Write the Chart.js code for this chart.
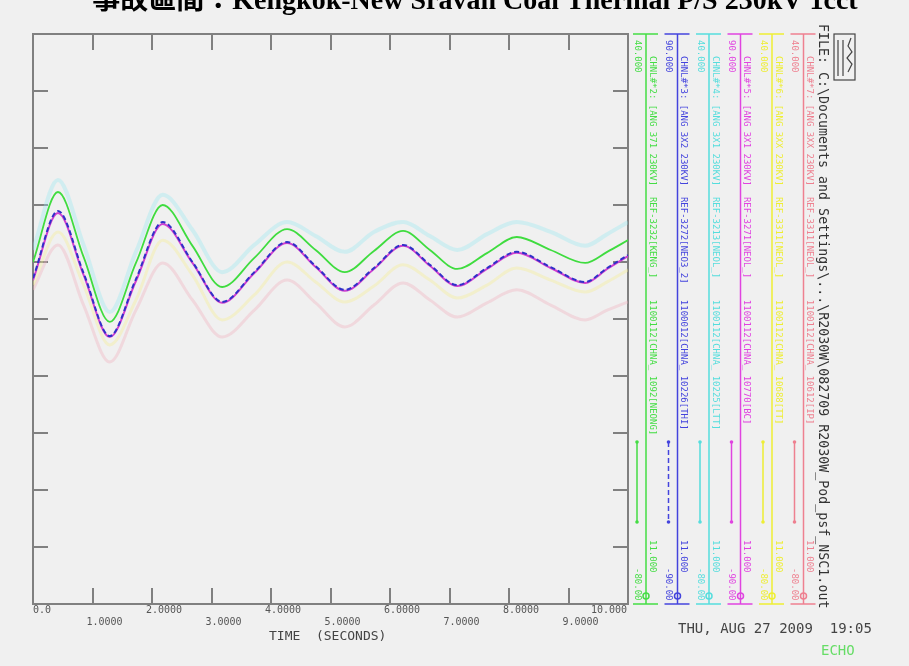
<!DOCTYPE html>
<html>
<head>
<meta charset="utf-8">
<script src="https://cdn.jsdelivr.net/npm/chart.js@4.4.0/dist/chart.umd.min.js"></script>
<style>
  body { margin: 0; background: #f0f0f0; }
  #wrap { width: 909px; height: 666px; }
</style>
</head>
<body>
<div id="wrap"><canvas id="grafico" width="909" height="666"></canvas></div>
<script>
// tempo (s) e angulos
const tempos = [0, 0.42, 0.85, 1.29, 1.73, 2.18, 2.68, 3.18, 3.72, 4.27, 4.75, 5.24, 5.73, 6.22, 6.67, 7.13, 7.63, 8.13, 8.7, 9.28, 9.65, 10]
const verde   = [18.0, 40.1, 19.6, -0.9, 17.7, 36.0, 23.1, 10.1, 19.3, 28.4, 21.8, 14.8, 21.5, 27.8, 21.8, 15.8, 20.8, 25.9, 21.8, 17.7, 21.2, 24.9]
const azul    = [12.9, 34.1, 14.5, -5.4, 12.6, 30.6, 18.0, 5.4, 14.8, 24.3, 16.7, 9.2, 16.1, 23.4, 17.1, 10.7, 16.1, 21.2, 16.4, 11.7, 16.1, 20.2]
const ciano   = [21.8, 43.9, 23.4, 2.2, 21.2, 39.2, 28.1, 14.8, 23.4, 30.6, 26.2, 21.2, 27.5, 30.6, 26.2, 21.8, 26.8, 30.6, 27.5, 23.1, 26.8, 30.6]
const magenta = [12.3, 33.5, 13.9, -5.7, 12.0, 30.0, 17.7, 5.1, 14.5, 24.0, 16.4, 8.9, 15.8, 23.1, 16.8, 10.4, 15.8, 20.9, 16.1, 11.4, 15.8, 19.9]
const amarelo = [10.7, 27.5, 10.7, -8.2, 6.0, 24.9, 13.9, -0.3, 7.6, 18.0, 11.7, 5.4, 10.4, 17.1, 12.3, 6.6, 10.7, 16.1, 12.3, 8.5, 11.7, 15.5]
const rosa    = [9.2, 23.4, 4.4, -13.6, 2.8, 17.7, 6.0, -5.7, 2.8, 12.3, 5.1, -2.5, 4.4, 11.4, 6.0, 0.6, 5.1, 9.2, 4.4, -0.3, 2.8, 5.4]

const ticksX = [0, 1, 2, 3, 4, 5, 6, 7, 8, 9, 10]
const rotulosX = ['0.0', '1.0000', '2.0000', '3.0000', '4.0000', '5.0000', '6.0000', '7.0000', '8.0000', '9.0000', '10.000']
const ticksY = [-90, -72, -54, -36, -18, 0, 18, 36, 54, 72, 90]

const canais = [
    'CHNL#*2: [ANG 371 230KV]  REF-3232[KENG_]    1100112[CHNA_ 1092[NEONG]',
    'CHNL#*3: [ANG 3X2 230KV]  REF-3272[NEO3_2]   1100012[CHNA_ 10226[THI]',
    'CHNL#*4: [ANG 3X1 230KV]  REF-3213[NEOL_]    1100112[CHNA_ 10225[LTT]',
    'CHNL#*5: [ANG 3X1 230KV]  REF-3271[NEOL_]    1100112[CHNA_ 10770[BC]',
    'CHNL#*6: [ANG 3XX 230KV]  REF-3311[NEOL_]    1100112[CHNA_ 10688[TT]',
    'CHNL#*7: [ANG 3XX 230KV]  REF-3311[NEOL_]    1100112[CHNA_ 10612[IP]'
]
const valorTopo = ['40.000', '90.000', '40.000', '90.000', '40.000', '40.000']
const valorBase = ['-80.00', '-90.00', '-80.00', '-90.00', '-80.00', '-80.00']
const escala = '11.000'

const titulo = '事故區間：Kengkok-New Sravan Coal Thermal P/S 230kV 1cct'
const arquivo = 'FILE: C:\\Documents and Settings\\...\\R2030W\\082709 R2030W_Pod_psf_NSC1.out'
const dataHora = 'THU, AUG 27 2009  19:05'

function pontos(serie) {
    return tempos.map((t, i) => ({ x: t, y: serie[i] }))
}

let mono = "'DejaVu Sans Mono', monospace"

// desenha moldura, ticks, textos e colunas de legenda
const moldura = {
    id: 'moldura',
    beforeDraw(chart) {
        const ctx = chart.ctx
        ctx.save()
        ctx.fillStyle = '#f0f0f0'
        ctx.fillRect(0, 0, chart.width, chart.height)
        ctx.restore()
    },
    beforeDatasetsDraw(chart) {
        const ctx = chart.ctx
        const a = chart.chartArea
        const sx = chart.scales.x
        const sy = chart.scales.y
        ctx.save()
        ctx.strokeStyle = '#808080'
        ctx.lineWidth = 2
        ctx.strokeRect(a.left, a.top, a.right - a.left, a.bottom - a.top)

        ctx.lineWidth = 2
        ticksX.forEach(v => {
            let px = Math.round(sx.getPixelForValue(v))
            ctx.beginPath()
            ctx.moveTo(px, a.top); ctx.lineTo(px, a.top + 16)
            ctx.moveTo(px, a.bottom); ctx.lineTo(px, a.bottom - 16)
            ctx.stroke()
        })
        ticksY.forEach(v => {
            let py = Math.round(sy.getPixelForValue(v))
            ctx.beginPath()
            ctx.moveTo(a.left, py); ctx.lineTo(a.left + 15, py)
            ctx.moveTo(a.right, py); ctx.lineTo(a.right - 15, py)
            ctx.stroke()
        })

        // rotulos do eixo x em duas linhas
        ctx.fillStyle = '#555'
        ctx.font = '10px ' + mono
        ctx.textBaseline = 'middle'
        ticksX.forEach((v, i) => {
            let px = sx.getPixelForValue(v)
            let py = i % 2 == 0 ? a.bottom + 6 : a.bottom + 18
            if (i == 0) {
                ctx.textAlign = 'left'
                ctx.fillText(rotulosX[i], px, py)
            } else if (i == ticksX.length - 1) {
                ctx.textAlign = 'right'
                ctx.fillText(rotulosX[i], px - 1, py)
            } else {
                ctx.textAlign = 'left'
                ctx.fillText(rotulosX[i], px - 6, py)
            }
        })
        ctx.font = '13px ' + mono
        ctx.textAlign = 'left'
        ctx.fillStyle = '#444'
        ctx.fillText('TIME  (SECONDS)', 269, a.bottom + 33)
        ctx.restore()
    },
    afterDraw(chart) {
        const ctx = chart.ctx
        const a = chart.chartArea
        ctx.save()

        // titulo cortado no topo
        ctx.fillStyle = '#000'
        ctx.font = "bold 28px 'Liberation Serif', 'Noto Sans CJK TC', serif"
        ctx.textAlign = 'center'
        ctx.textBaseline = 'alphabetic'
        ctx.fillText(titulo, 475, 9)

        // colunas de legenda
        const ordem = [0, 1, 2, 3, 4, 5]
        ordem.forEach(i => {
            const ds = chart.data.datasets[i]
            const lx = a.right + 18 + i * 31.5
            ctx.strokeStyle = ds.corLegenda
            ctx.fillStyle = ds.corLegenda
            ctx.lineWidth = 1.5
            ctx.setLineDash([])
            ctx.beginPath()
            ctx.moveTo(lx - 13, a.top); ctx.lineTo(lx + 12, a.top)
            ctx.moveTo(lx, a.top); ctx.lineTo(lx, a.bottom)
            ctx.moveTo(lx - 13, a.bottom); ctx.lineTo(lx + 12, a.bottom)
            ctx.stroke()

            // amostra do traco
            ctx.setLineDash(ds.borderDash || [])
            ctx.beginPath()
            ctx.moveTo(lx - 9, 442); ctx.lineTo(lx - 9, 522)
            ctx.stroke()
            ctx.setLineDash([])
            ctx.beginPath(); ctx.arc(lx - 9, 442, 1.8, 0, Math.PI * 2); ctx.fill()
            ctx.beginPath(); ctx.arc(lx - 9, 522, 1.8, 0, Math.PI * 2); ctx.fill()

            // simbolo na base
            ctx.beginPath()
            ctx.arc(lx, a.bottom - 8, 3, 0, Math.PI * 2)
            ctx.stroke()

            ctx.font = '9px ' + mono
            ctx.textBaseline = 'middle'
            ctx.textAlign = 'left'
            let textoRot = (txt, x, y) => {
                ctx.save()
                ctx.translate(x, y)
                ctx.rotate(Math.PI / 2)
                ctx.fillText(txt, 0, 0)
                ctx.restore()
            }
            textoRot(valorTopo[i], lx - 9, a.top + 6)
            textoRot(canais[i], lx + 6, a.top + 22)
            textoRot(escala, lx + 6, a.bottom - 64)
            textoRot(valorBase[i], lx - 9, a.bottom - 36)
        })

        // caminho do arquivo
        ctx.fillStyle = '#333'
        ctx.font = '13.3px ' + mono
        ctx.textBaseline = 'middle'
        ctx.save()
        ctx.translate(822, 24)
        ctx.rotate(Math.PI / 2)
        ctx.fillText(arquivo, 0, 0)
        ctx.restore()

        // caixinha do icone
        ctx.strokeStyle = '#444'
        ctx.lineWidth = 1.2
        ctx.strokeRect(834, 34, 21, 46)
        ctx.beginPath()
        ctx.moveTo(838, 40); ctx.lineTo(838, 76)
        ctx.moveTo(843, 40); ctx.lineTo(843, 76)
        ctx.stroke()
        ctx.beginPath()
        ctx.moveTo(851, 38); ctx.lineTo(848, 46); ctx.lineTo(852, 52)
        ctx.lineTo(847, 58); ctx.lineTo(852, 64); ctx.lineTo(848, 72)
        ctx.stroke()

        // data e ECHO
        ctx.fillStyle = '#444'
        ctx.font = '14px ' + mono
        ctx.textAlign = 'left'
        ctx.fillText(dataHora, 678, 629)
        ctx.fillStyle = '#66dd66'
        ctx.fillText('ECHO', 821, 651)
        ctx.restore()
    }
}

const grafico = new Chart(document.getElementById('grafico'), {
    type: 'line',
    data: {
        datasets: [
            {
                label: canais[0], data: pontos(verde), order: 1,
                borderColor: '#3fdc3f', corLegenda: '#44dd44', borderWidth: 1.8
            },
            {
                label: canais[1], data: pontos(azul), order: 0,
                borderColor: '#3030c8', corLegenda: '#4444dd', borderWidth: 2, borderDash: [5, 3]
            },
            {
                label: canais[2], data: pontos(ciano), order: 3,
                borderColor: 'rgba(150, 232, 240, 0.35)', corLegenda: '#55dddd', borderWidth: 4
            },
            {
                label: canais[3], data: pontos(magenta), order: 2,
                borderColor: '#d040d0', corLegenda: '#e044e0', borderWidth: 2
            },
            {
                label: canais[4], data: pontos(amarelo), order: 4,
                borderColor: 'rgba(244, 238, 150, 0.4)', corLegenda: '#eeee33', borderWidth: 3
            },
            {
                label: canais[5], data: pontos(rosa), order: 5,
                borderColor: 'rgba(240, 180, 192, 0.4)', corLegenda: '#ee8090', borderWidth: 3
            }
        ]
    },
    options: {
        responsive: false,
        animation: false,
        parsing: true,
        elements: {
            point: { radius: 0 },
            line: { cubicInterpolationMode: 'monotone', fill: false }
        },
        layout: {
            padding: { left: 33, right: 281, top: 34, bottom: 62 }
        },
        scales: {
            x: { type: 'linear', min: 0, max: 10, display: false },
            y: { type: 'linear', min: -90, max: 90, display: false }
        },
        plugins: {
            legend: { display: false },
            title: { display: false },
            tooltip: { enabled: false }
        }
    },
    plugins: [moldura]
})
</script>
</body>
</html>
